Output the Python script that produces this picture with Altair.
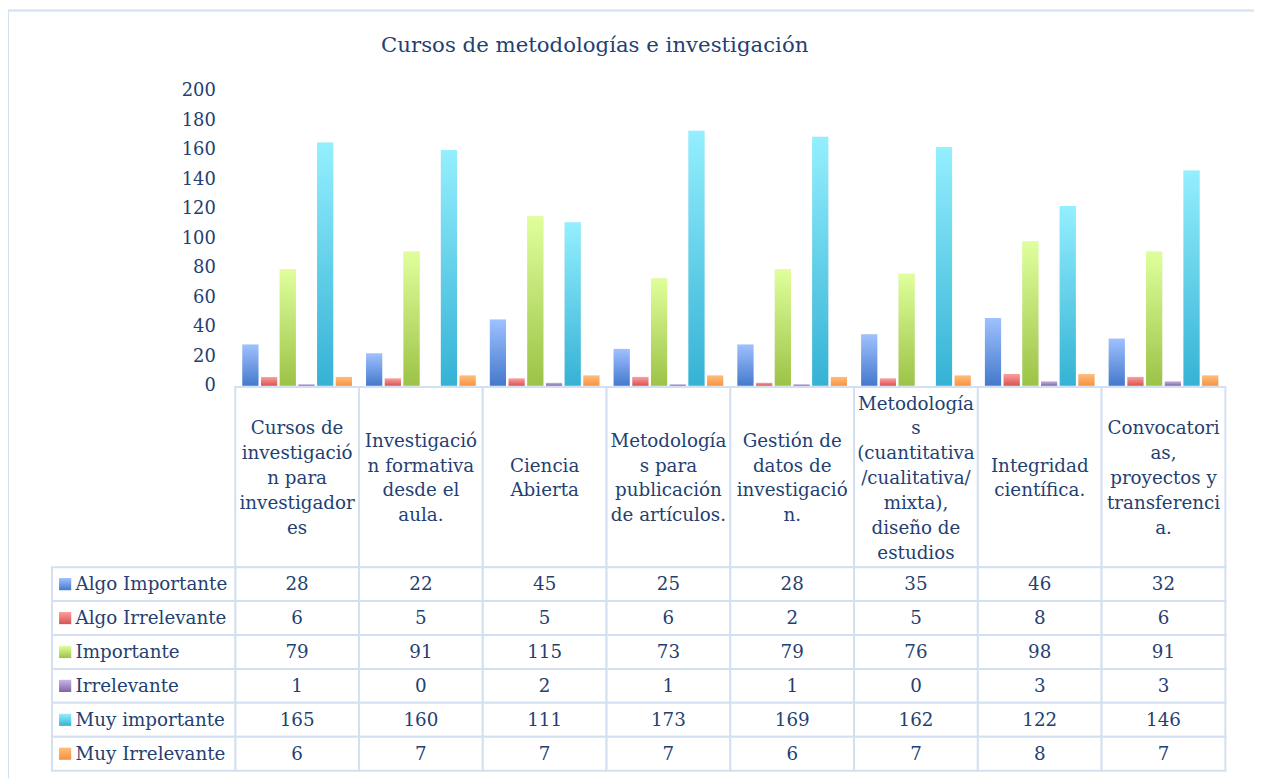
import altair as alt
import pandas as pd

# ---------------- data ----------------
categories = [
    "Cursos de investigación para investigadores",
    "Investigación formativa desde el aula.",
    "Ciencia Abierta",
    "Metodologías para publicación de artículos.",
    "Gestión de datos de investigación.",
    "Metodologías (cuantitativa/cualitativa/mixta), diseño de estudios",
    "Integridad científica.",
    "Convocatorias, proyectos y transferencia.",
]
category_labels = [
    "Cursos de\ninvestigació\nn para\ninvestigador\nes",
    "Investigació\nn formativa\ndesde el\naula.",
    "Ciencia\nAbierta",
    "Metodología\ns para\npublicación\nde artículos.",
    "Gestión de\ndatos de\ninvestigació\nn.",
    "Metodología\ns\n(cuantitativa\n/cualitativa/\nmixta),\ndiseño de\nestudios",
    "Integridad\ncientífica.",
    "Convocatori\nas,\nproyectos y\ntransferenci\na.",
]
series = ["Algo Importante", "Algo Irrelevante", "Importante",
          "Irrelevante", "Muy importante", "Muy Irrelevante"]

algo_importante = [28, 22, 45, 25, 28, 35, 46, 32]
algo_irrelevante = [6, 5, 5, 6, 2, 5, 8, 6]
importante = [79, 91, 115, 73, 79, 76, 98, 91]
irrelevante = [1, 0, 2, 1, 1, 0, 3, 3]
muy_importante = [165, 160, 111, 173, 169, 162, 122, 146]
muy_irrelevante = [6, 7, 7, 7, 6, 7, 8, 7]

y_ticks = [0, 20, 40, 60, 80, 100, 120, 140, 160, 180, 200]
title_text = "Cursos de metodologías e investigación"

colors_top = ["#9fc1ff", "#ff9e9e", "#e0ff9c", "#c7b5ec", "#94effe", "#ffbd7c"]
colors_bottom = ["#4579cc", "#d65353", "#9cc347", "#8064a2", "#35b2d5", "#f7923f"]

# ---------------- tables ----------------
all_values = [algo_importante, algo_irrelevante, importante,
              irrelevante, muy_importante, muy_irrelevante]
rows = []
for s, vals in zip(series, all_values):
    for c, v in zip(categories, vals):
        rows.append({"serie": s, "categoria": c, "valor": v})
df = pd.DataFrame(rows)
cat_df = pd.DataFrame({"categoria": categories, "etiqueta": category_labels})
ser_df = pd.DataFrame({"serie": series})
one = pd.DataFrame({"k": [0]})

# ---------------- layout ----------------
FONT = "DejaVu Serif"
TEXT = "#243f72"
GRID = "#d3e0f1"
X0, X1 = 228.7, 1225.2
LEG_X0 = 44.3
HEAD_TOP = 379.0
HEAD_MID = 470.6
LINE_H = 25
ROW_TOP, ROW_BOT = 560.3, 765.1
FS = 18.4

x_scale = alt.Scale(domain=categories, range=[X0, X1], paddingInner=0, paddingOuter=0)
xoff_scale = alt.Scale(domain=series, paddingInner=0.133, paddingOuter=0.377)
y_bar = alt.Scale(domain=[0, 200], range=[377.7, 81], nice=False, zero=True)
y_row = alt.Scale(domain=series, range=[ROW_TOP, ROW_BOT], paddingInner=0, paddingOuter=0)

X_cat = alt.X("categoria:N", scale=x_scale, axis=None, sort=categories)
Y_row = alt.Y("serie:N", scale=y_row, axis=None, sort=series)

layers = []

# outer frame (left and top edges)
layers.append(alt.Chart(one).mark_rule(color=GRID, strokeWidth=2).encode(
    x=alt.value(0), y=alt.value(0), y2=alt.value(773)))
layers.append(alt.Chart(one).mark_rule(color=GRID, strokeWidth=2).encode(
    x=alt.value(0), x2=alt.value(1254), y=alt.value(0)))

# table cells
layers.append(alt.Chart(cat_df).mark_rect(fill="white", stroke=GRID, strokeWidth=2).encode(
    x=X_cat, y=alt.value(HEAD_TOP), y2=alt.value(ROW_TOP)))
layers.append(alt.Chart(df).mark_rect(fill="white", stroke=GRID, strokeWidth=2).encode(
    x=X_cat, y=Y_row))
layers.append(alt.Chart(ser_df).mark_rect(fill="white", stroke=GRID, strokeWidth=2).encode(
    x=alt.value(LEG_X0), x2=alt.value(X0), y=Y_row))

# bars
for i, s in enumerate(series):
    grad = alt.Gradient(
        gradient="linear",
        stops=[alt.GradientStop(color=colors_top[i], offset=0),
               alt.GradientStop(color=colors_bottom[i], offset=1)],
        x1=0, x2=0, y1=0, y2=1)
    base = alt.Chart(df).transform_filter(alt.datum.serie == s)
    layers.append(base.mark_bar(color="#000000", opacity=0.07, xOffset=2.5).encode(
        x=X_cat,
        xOffset=alt.XOffset("serie:N", scale=xoff_scale, sort=series),
        y=alt.Y("valor:Q", scale=y_bar, axis=None)))
    yenc = alt.Y("valor:Q", scale=y_bar, axis=None)
    if i == 0:
        yenc = alt.Y("valor:Q", scale=y_bar, axis=alt.Axis(
            values=y_ticks, grid=False, domain=False, ticks=False, title=None,
            labelFont=FONT, labelFontSize=18, labelColor=TEXT,
            labelPadding=20, offset=-X0))
    layers.append(base.mark_bar(color=grad).encode(
        x=X_cat,
        xOffset=alt.XOffset("serie:N", scale=xoff_scale, sort=series),
        y=yenc))
    # legend key
    layers.append(alt.Chart(ser_df).transform_filter(alt.datum.serie == s).mark_square(
        color=grad, size=150, opacity=1).encode(
        x=alt.value(57.5), y=Y_row))

# legend labels
layers.append(alt.Chart(ser_df).mark_text(
    align="left", baseline="middle", font=FONT, fontSize=FS, color=TEXT).encode(
    x=alt.value(68), y=Y_row, text="serie:N"))

# values
layers.append(alt.Chart(df).mark_text(
    align="center", baseline="middle", font=FONT, fontSize=FS, color=TEXT).encode(
    x=X_cat, y=Y_row, text="valor:Q"))

# header labels (vertically centred block of lines)
layers.append(alt.Chart(cat_df).transform_calculate(
    nlin="length(split(datum.etiqueta, '\\n'))"
).transform_calculate(
    ypix=f"{HEAD_MID} - (datum.nlin - 1) * {LINE_H / 2}"
).mark_text(
    align="center", baseline="middle", font=FONT, fontSize=FS, color=TEXT,
    lineBreak="\n", lineHeight=LINE_H).encode(
    x=X_cat, y=alt.Y("ypix:Q", scale=None, axis=None), text="etiqueta:N"))

# title
layers.append(alt.Chart(pd.DataFrame({"t": [title_text]})).mark_text(
    align="center", baseline="middle", font=FONT, fontSize=21.4, color=TEXT).encode(
    x=alt.value(590.5), y=alt.value(36), text="t:N"))

chart = alt.layer(*layers).resolve_scale(
    x="independent", y="independent"
).properties(
    width=1254, height=773, padding=0,
    autosize=alt.AutoSizeParams(type="none"),
).configure_view(stroke=None)

chart.save("out.html", embed_options={"renderer": "svg", "actions": False})
